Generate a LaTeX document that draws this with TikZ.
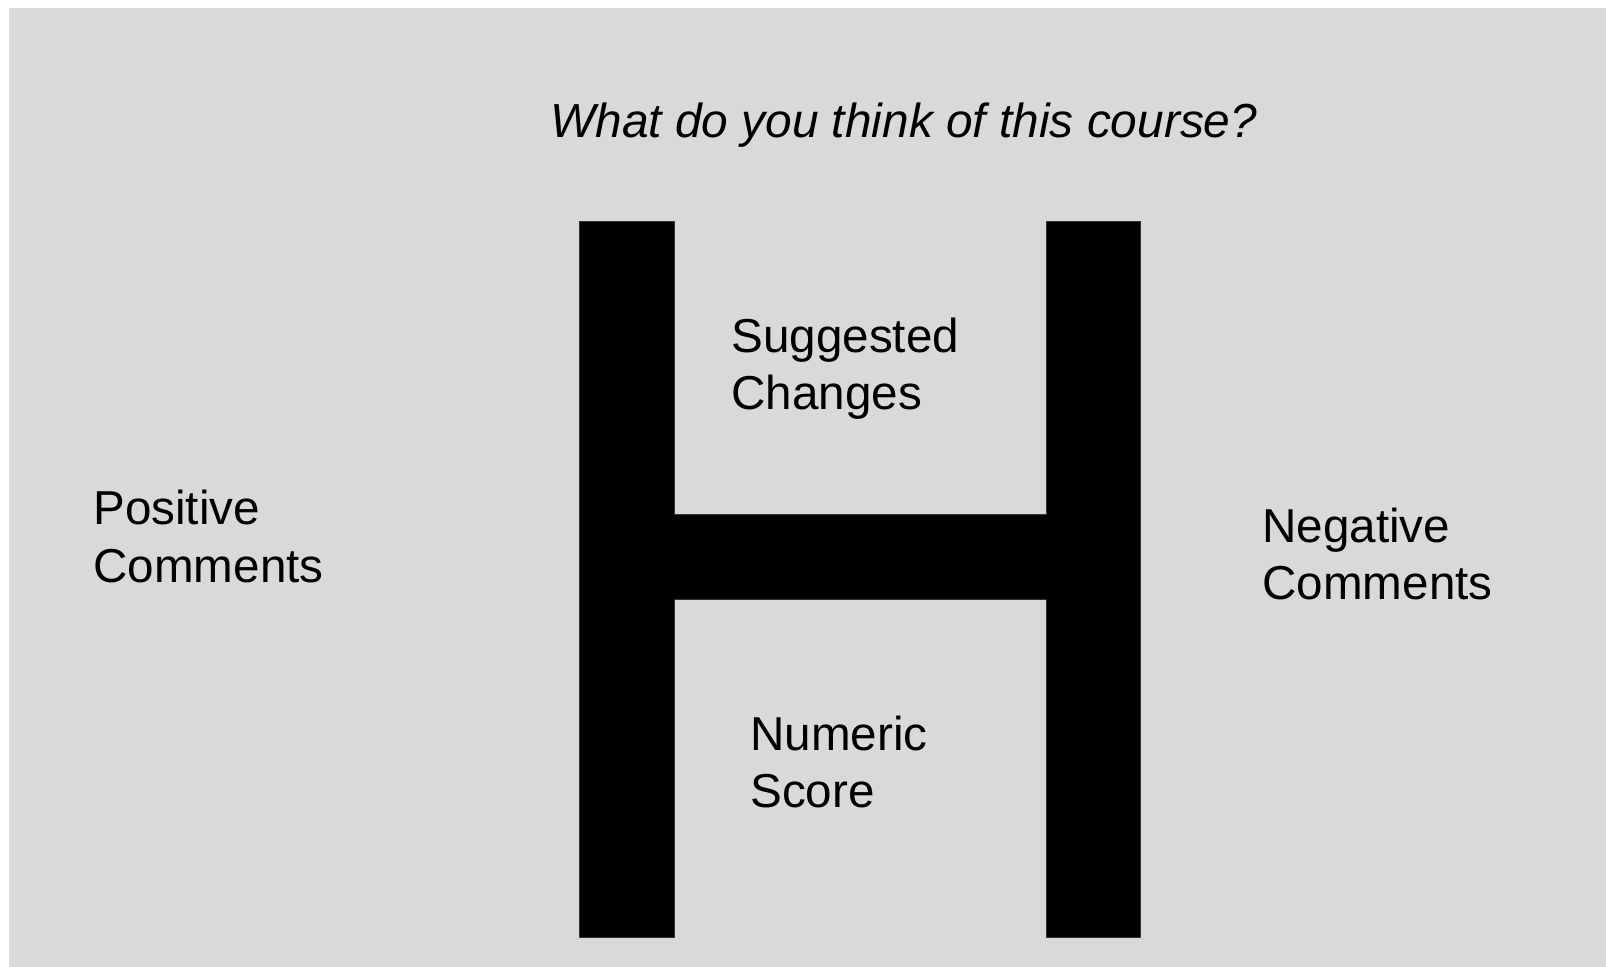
\documentclass[tikz,border=0pt]{standalone}
\usepackage{fontspec}
\setmainfont{Liberation Sans}
\usepackage{tikz}
\definecolor{slidegray}{HTML}{D9D9D9}

\begin{document}
\begin{tikzpicture}[
    x=0.5pt, y=-0.5pt,
    every node/.style={inner sep=0pt, anchor=base west, align=left},
    slidetext/.style={font=\fontsize{23.8}{28.5}\selectfont},
    headline/.style={font=\fontsize{23.9}{28.5}\selectfont\itshape},
    hbar/.style={fill=black, draw=black!80, line width=0.5pt}
]
    \useasboundingbox (0,0) rectangle (1606,967);
    \fill[slidegray] (9,8) rectangle (1606,967);

    % the big H
    \draw[hbar] (579.5,221.5) -| (674,515) -| (1046.5,221.5) -| (1140.5,937)
        -| (1046.5,599.5) -| (674,937) -| (579.5,221.5) -- cycle;

    % base west sits on the last line of each two-line text
    \node[headline] (question) at (550,138) {What do you think of this course?};
    \node[slidetext] (positive) at (93,582) {Positive\\Comments};
    \node[slidetext] (negative) at (1262,600) {Negative\\Comments};
    \node[slidetext] (changes) at (731,410) {Suggested\\Changes};
    \node[slidetext] (score) at (750,807) {Numeric\\Score};
\end{tikzpicture}
\end{document}
